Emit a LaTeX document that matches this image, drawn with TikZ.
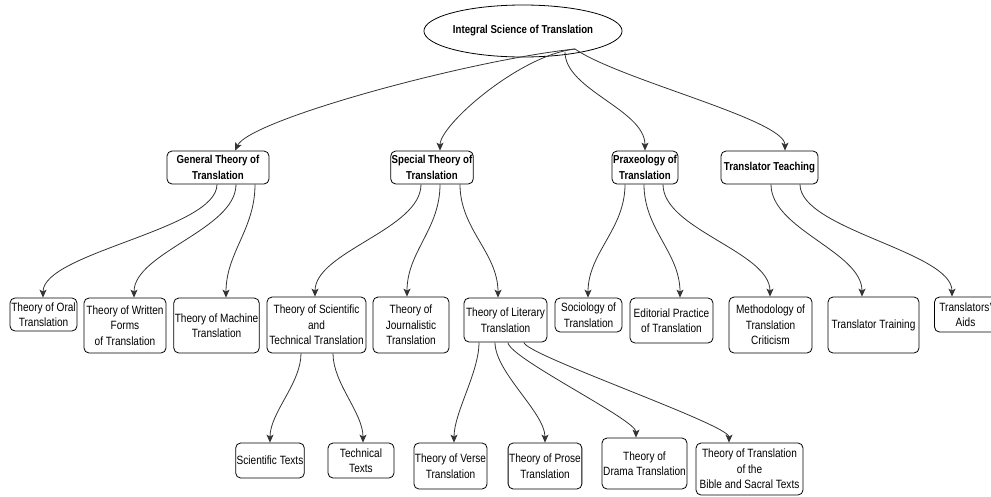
\documentclass[tikz,border=0pt]{standalone}
\usepackage{fontspec}
\setmainfont{Liberation Sans}[FakeStretch=0.84]
\usetikzlibrary{arrows.meta,calc,shapes.geometric}
\begin{document}
\begin{tikzpicture}[x=1pt,y=-1pt,
  box/.style={draw=black, line width=0.8pt, rounded corners=5pt, align=center, inner sep=1pt, font=\fontsize{12}{15.5}\selectfont},
  hbox/.style={box, font=\fontsize{11.5}{16}\selectfont\bfseries},
  edge/.style={draw=black!80, line width=0.8pt, -{Stealth[length=8pt,width=7pt,inset=2pt]}}]
\useasboundingbox (0,0) rectangle (991,496);
% root
\node[ellipse, draw=black, line width=0.8pt, minimum width=150pt, minimum height=52pt, inner sep=0pt, font=\fontsize{11.5}{14}\selectfont\bfseries] (root) at (523,31) {Integral Science of Translation};
% level 1
\node[hbox, minimum width=102pt, minimum height=33pt] (gen) at (218,167.5) {General Theory of\\Translation};
\node[hbox, minimum width=82pt, minimum height=33pt] (spec) at (432,167.5) {Special Theory of\\Translation};
\node[hbox, minimum width=66pt, minimum height=33pt] (prax) at (645,167.5) {Praxeology of\\Translation};
\node[hbox, minimum width=97pt, minimum height=33pt] (teach) at (769.5,167.5) {Translator Teaching};
% level 2
\node[box, minimum width=67pt, minimum height=33pt] (oral) at (43.5,314.5) {Theory of Oral\\Translation};
\node[box, minimum width=82pt, minimum height=55pt] (written) at (125,325.5) {Theory of Written\\Forms\\of Translation};
\node[box, minimum width=83pt, minimum height=55pt] (machine) at (216.5,325.5) {Theory of Machine\\Translation};
\node[box, minimum width=99pt, minimum height=56pt] (scitech) at (316.5,325) {Theory of Scientific\\and\\Technical Translation};
\node[box, minimum width=76pt, minimum height=56pt] (journ) at (411,325) {Theory of\\Journalistic\\Translation};
\node[box, minimum width=83pt, minimum height=44pt] (liter) at (505.5,320) {Theory of Literary\\Translation};
\node[box, minimum width=67pt, minimum height=34pt] (socio) at (588.5,315) {Sociology of\\Translation};
\node[box, minimum width=83pt, minimum height=45pt] (edit) at (671.5,320.5) {Editorial Practice\\of Translation};
\node[box, minimum width=83pt, minimum height=56pt] (method) at (770.5,325) {Methodology of\\Translation\\Criticism};
\node[box, minimum width=91pt, minimum height=56pt] (train) at (873.5,325) {Translator Training};
\node[box, minimum width=62pt, minimum height=35pt] (aids) at (965.5,314.5) {Translators'\\Aids};
% level 3
\node[box, minimum width=66pt, minimum height=35pt] (scitx) at (270,460.5) {Scientific Texts};
\node[box, minimum width=66pt, minimum height=35pt] (techtx) at (361,460.5) {Technical\\Texts};
\node[box, minimum width=71pt, minimum height=46pt] (verse) at (450.5,466) {Theory of Verse\\Translation};
\node[box, minimum width=70pt, minimum height=46pt] (prose) at (545,466) {Theory of Prose\\Translation};
\node[box, minimum width=85pt, minimum height=51pt] (drama) at (644.5,463.5) {Theory of\\Drama Translation};
\node[box, minimum width=107pt, minimum height=52pt] (bible) at (749.5,469) {Theory of Translation\\of the\\Bible and Sacral Texts};
% root edges
\draw[edge] ($(root.center)+(52,18)$) .. controls ($(root.center)+(-53,29)$) and ($(gen.north)+(32,-31)$) .. ($(gen.north)+(17,0)$);
\draw[edge] ($(root.center)+(52,18)$) .. controls ($(root.center)+(-3,24)$) and ($(spec.north)+(8,-26)$) .. ($(spec.north)+(8,0)$);
\draw[edge] ($(root.center)+(42,21)$) .. controls ($(root.center)+(42,59)$) and ($(prax.north)+(0,-41)$) .. (prax.north);
\draw[edge] ($(root.center)+(52,18)$) .. controls ($(root.center)+(97,49)$) and ($(teach.north)+(15.5,-31)$) .. ($(teach.north)+(15.5,0)$);
% general
\draw[edge] ($(gen.south)+(-1,0)$) .. controls +(0,45) and +(0,-45) .. ($(oral.north)+(-0.5,0)$);
\draw[edge] ($(gen.south)+(18,0)$) .. controls +(0,45) and +(0,-45) .. ($(written.north)+(9,0)$);
\draw[edge] ($(gen.south)+(37,0)$) .. controls +(0,45) and +(0,-45) .. ($(machine.north)+(9.5,0)$);
% special
\draw[edge] ($(spec.south)+(-11,0)$) .. controls +(0,45) and +(0,-45) .. ($(scitech.north)+(-1.5,0)$);
\draw[edge] ($(spec.south)+(8,0)$) .. controls +(0,45) and +(0,-45) .. ($(journ.north)+(-4,0)$);
\draw[edge] ($(spec.south)+(28,0)$) .. controls +(0,45) and +(0,-45) .. ($(liter.north)+(-7.5,0)$);
% praxeology
\draw[edge] ($(prax.south)+(-20,0)$) .. controls +(0,45) and +(0,-45) .. ($(socio.north)+(-0.5,0)$);
\draw[edge] ($(prax.south)+(-1,0)$) .. controls +(0,45) and +(0,-45) .. ($(edit.north)+(8.5,0)$);
\draw[edge] ($(prax.south)+(18,0)$) .. controls +(0,45) and +(0,-45) .. ($(method.north)+(-0.5,0)$);
% teaching
\draw[edge] ($(teach.south)+(1.5,0)$) .. controls +(0,45) and +(0,-45) .. ($(train.north)+(-11.5,0)$);
\draw[edge] ($(teach.south)+(30.5,0)$) .. controls +(0,45) and +(0,-45) .. ($(aids.north)+(-13.5,0)$);
% sci-tech
\draw[edge] ($(scitech.south)+(-15.5,0)$) .. controls +(0,30) and +(0,-30) .. (scitx.north);
\draw[edge] ($(scitech.south)+(16.5,0)$) .. controls +(0,30) and +(0,-30) .. ($(techtx.north)+(2,0)$);
% literary
\draw[edge] ($(liter.south)+(-26.5,0)$) .. controls +(0,30) and +(0,-30) .. ($(verse.north)+(3.5,0)$);
\draw[edge] ($(liter.south)+(-10.5,0)$) .. controls +(0,30) and +(0,-30) .. (prose.north);
\draw[edge] ($(liter.south)+(2.5,0)$) .. controls +(0,15) and +(0,-18) .. ($(drama.north)+(-8.5,0)$);
\draw[edge] ($(liter.south)+(18.5,0)$) .. controls +(0,12) and +(0,-18) .. ($(bible.north)+(-20.5,0)$);
\end{tikzpicture}
\end{document}
